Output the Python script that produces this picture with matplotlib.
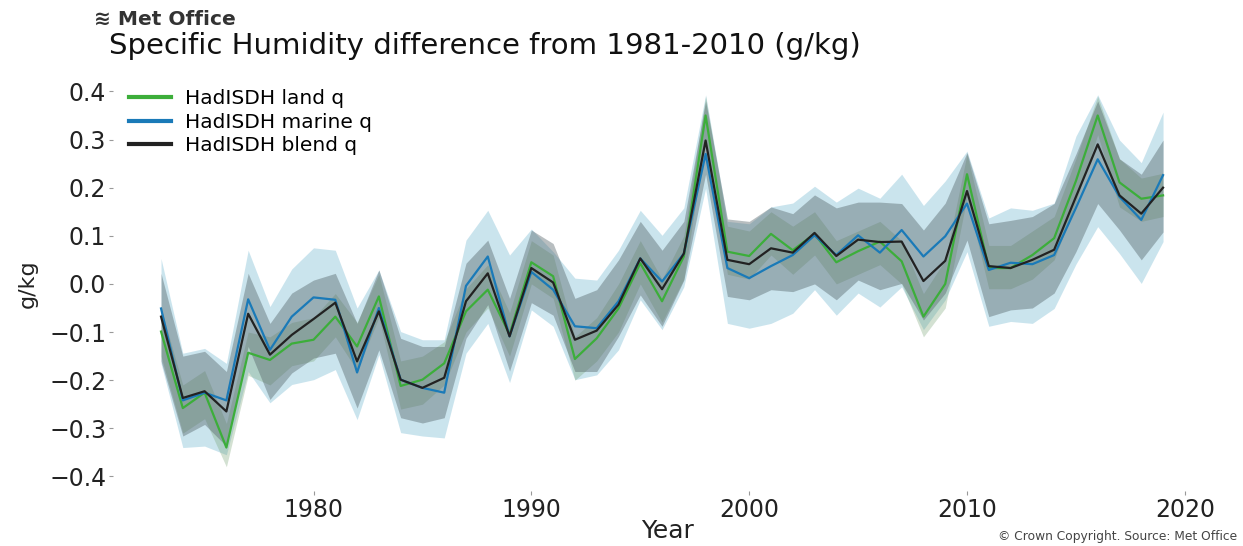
import numpy as np
import matplotlib.pyplot as plt

years = np.arange(1973, 2020)

land = [-0.099, -0.258, -0.226, -0.340, -0.143, -0.158, -0.124, -0.116, -0.068, -0.130,
        -0.026, -0.212, -0.199, -0.165, -0.057, -0.012, -0.105,
        0.045, 0.016, -0.156, -0.113, -0.051, 0.043, -0.036, 0.057, 0.350, 0.067,
        0.058, 0.104, 0.070, 0.104, 0.045, 0.068, 0.088,
        0.047, -0.068, 0.000, 0.228, 0.033, 0.033, 0.060, 0.095, 0.214, 0.350,
        0.211, 0.177, 0.184]
land_lo = [-0.15, -0.31, -0.28, -0.38, -0.19, -0.21, -0.17, -0.16, -0.11, -0.18,
           -0.07, -0.26, -0.25, -0.21, -0.10, -0.05, -0.15,
           0.00, -0.03, -0.20, -0.16, -0.10, 0.00, -0.08, 0.01, 0.30, 0.02,
           0.01, 0.06, 0.02, 0.06, 0.00, 0.02, 0.04,
           0.00, -0.11, -0.05, 0.18, -0.01, -0.01, 0.01, 0.05, 0.17, 0.31,
           0.16, 0.13, 0.14]
land_hi = [-0.05, -0.21, -0.18, -0.29, -0.10, -0.11, -0.08, -0.07, -0.02, -0.08,
           0.02, -0.16, -0.15, -0.12, -0.01, 0.04, -0.06,
           0.09, 0.06, -0.11, -0.07, 0.00, 0.09, 0.01, 0.10, 0.39, 0.12,
           0.11, 0.15, 0.12, 0.15, 0.09, 0.11, 0.13,
           0.09, -0.02, 0.05, 0.27, 0.08, 0.08, 0.11, 0.14, 0.26, 0.39,
           0.26, 0.22, 0.23]

marine = [-0.051, -0.242, -0.226, -0.242, -0.032, -0.137, -0.068, -0.028, -0.033, -0.184,
          -0.050, -0.199, -0.216, -0.226, -0.004, 0.057, -0.109,
          0.025, -0.012, -0.088, -0.092, -0.036, 0.053, 0.005, 0.063, 0.270, 0.033,
          0.012, 0.037, 0.060, 0.101, 0.060, 0.101, 0.065,
          0.112, 0.057, 0.099, 0.167, 0.029, 0.044, 0.041, 0.060, 0.158, 0.259,
          0.181, 0.133, 0.226]
marine_lo = [-0.165, -0.340, -0.337, -0.355, -0.182, -0.247, -0.209, -0.199, -0.178, -0.282,
             -0.147, -0.309, -0.316, -0.320, -0.144, -0.082, -0.205,
             -0.054, -0.088, -0.199, -0.189, -0.137, -0.033, -0.095, -0.006, 0.199, -0.082,
             -0.092, -0.082, -0.061, -0.012, -0.065, -0.019, -0.048,
             -0.006, -0.095, -0.033, 0.067, -0.088, -0.078, -0.082, -0.051, 0.041, 0.119,
             0.063, 0.001, 0.088]
marine_hi = [0.053, -0.144, -0.134, -0.165, 0.070, -0.047, 0.031, 0.075, 0.070, -0.050,
             0.029, -0.099, -0.116, -0.116, 0.091, 0.153, 0.060,
             0.114, 0.067, 0.012, 0.008, 0.070, 0.153, 0.101, 0.158, 0.393, 0.130,
             0.125, 0.160, 0.168, 0.203, 0.170, 0.199, 0.178,
             0.228, 0.163, 0.214, 0.276, 0.137, 0.158, 0.153, 0.168, 0.307, 0.393,
             0.299, 0.252, 0.357]

blend = [-0.068, -0.237, -0.223, -0.265, -0.062, -0.147, -0.106, -0.073, -0.039, -0.161,
         -0.057, -0.199, -0.216, -0.195, -0.036, 0.022, -0.109,
         0.033, 0.003, -0.116, -0.097, -0.043, 0.053, -0.011, 0.063, 0.298, 0.050,
         0.041, 0.074, 0.065, 0.106, 0.058, 0.092, 0.087,
         0.088, 0.006, 0.048, 0.193, 0.037, 0.033, 0.050, 0.071, 0.181, 0.290,
         0.184, 0.146, 0.200]
blend_lo = [-0.160, -0.316, -0.292, -0.337, -0.130, -0.240, -0.185, -0.154, -0.144, -0.258,
            -0.137, -0.278, -0.289, -0.278, -0.113, -0.043, -0.181,
            -0.039, -0.065, -0.182, -0.182, -0.109, -0.023, -0.088, 0.008, 0.228, -0.026,
            -0.033, -0.012, -0.016, 0.000, -0.033, 0.008, -0.012,
            0.001, -0.075, -0.019, 0.091, -0.068, -0.054, -0.050, -0.019, 0.067, 0.167,
            0.112, 0.050, 0.108]
blend_hi = [0.022, -0.150, -0.140, -0.182, 0.022, -0.082, -0.019, 0.008, 0.022, -0.082,
            0.029, -0.113, -0.130, -0.130, 0.043, 0.091, -0.030,
            0.112, 0.084, -0.030, -0.012, 0.050, 0.130, 0.070, 0.130, 0.380, 0.135,
            0.130, 0.160, 0.146, 0.185, 0.158, 0.170, 0.170,
            0.167, 0.112, 0.168, 0.273, 0.125, 0.132, 0.140, 0.167, 0.270, 0.380,
            0.260, 0.228, 0.299]

green = '#3cae3a'
blue = '#1a7ab8'
black = '#222222'

fig = plt.figure(figsize=(12.43, 5.46), dpi=100)
ax = fig.add_axes([0.091, 0.101, 0.892, 0.758])

# uncertainty ranges
ax.fill_between(years, marine_lo, marine_hi, color='#96cadd', alpha=0.5, lw=0)
ax.fill_between(years, land_lo, land_hi, color='#6f9c6a', alpha=0.3, lw=0)
ax.fill_between(years, blend_lo, blend_hi, color='#4f5e63', alpha=0.4, lw=0)

ax.plot(years, land, color=green, lw=1.6, label='HadISDH land q')
ax.plot(years, marine, color=blue, lw=1.6, label='HadISDH marine q')
ax.plot(years, blend, color=black, lw=1.6, label='HadISDH blend q')

ax.set_xlim(1970.8, 2021.7)
ax.set_ylim(-0.43, 0.43)
ax.set_yticks(np.arange(-0.4, 0.41, 0.1))
ax.set_yticklabels(['\u22120.4', '\u22120.3', '\u22120.2', '\u22120.1', '0.0',
                    '0.1', '0.2', '0.3', '0.4'])
ax.set_xticks([1980, 1990, 2000, 2010, 2020])
for s in ax.spines.values():
    s.set_visible(False)
ax.tick_params(axis='both', labelsize=17, length=3, width=0.8, color='#999999',
               labelcolor='#222222', pad=2)

ax.set_xlabel('Year', fontsize=18, color='#222222', labelpad=-2)
ax.set_ylabel('g/kg', fontsize=16, color='#222222', labelpad=8)

leg = ax.legend(loc='upper left', frameon=False, fontsize=14.5, handlelength=2.1,
                handletextpad=0.7, labelspacing=0.22, borderaxespad=0.1,
                bbox_to_anchor=(0.005, 0.995))
for h in leg.legend_handles:
    h.set_linewidth(3)

fig.text(0.076, 0.965, '\u224b Met Office', fontsize=14.5, fontweight='bold',
         color='#333333', va='center', family='DejaVu Sans')
fig.text(0.088, 0.916, 'Specific Humidity difference from 1981-2010 (g/kg)',
         fontsize=21, color='#111111', va='center', family='DejaVu Sans')
fig.text(0.995, 0.017, '\u00a9 Crown Copyright. Source: Met Office', fontsize=8.8,
         color='#444444', ha='right', va='center')

fig.savefig('out.png', dpi=100, facecolor='white')
